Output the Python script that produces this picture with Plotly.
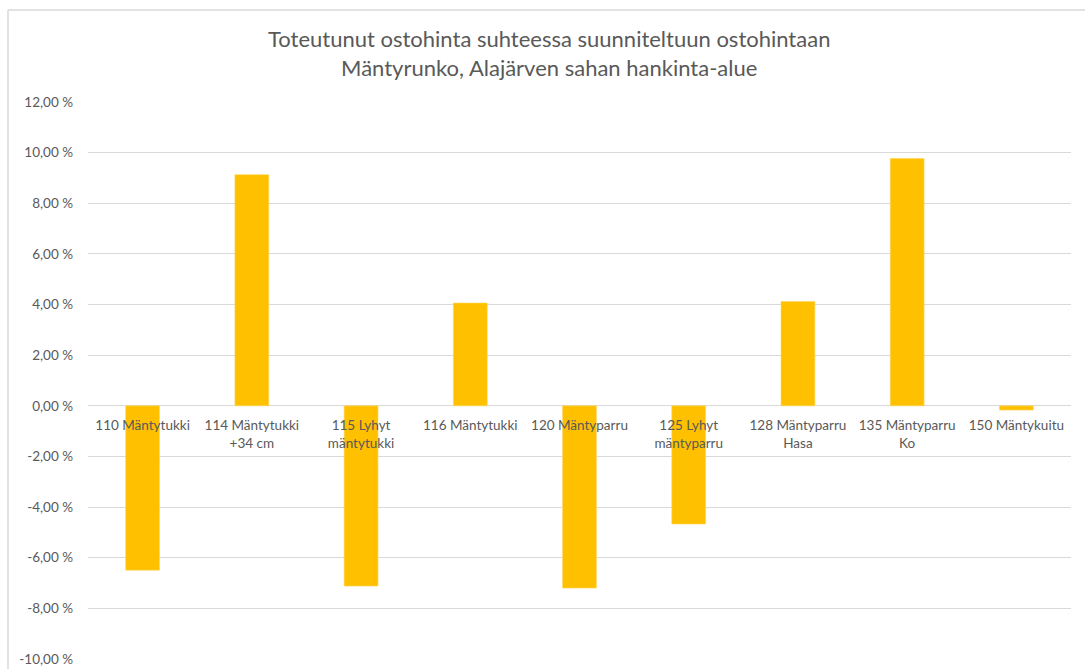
import plotly.graph_objects as go

# Purchase price deviation per timber assortment (percent)
categories = [
    "110 Mäntytukki",
    "114 Mäntytukki<br>+34 cm",
    "115 Lyhyt<br>mäntytukki",
    "116 Mäntytukki",
    "120 Mäntyparru",
    "125 Lyhyt<br>mäntyparru",
    "128 Mäntyparru<br>Hasa",
    "135 Mäntyparru<br>Ko",
    "150 Mäntykuitu",
]
deviation_pct = [-6.49, 9.13, -7.12, 4.06, -7.20, -4.67, 4.12, 9.77, -0.17]

y_tick_values = [-10, -8, -6, -4, -2, 0, 2, 4, 6, 8, 10, 12]
y_tick_labels = [f"{v:.2f}".replace(".", ",") + " %" for v in y_tick_values]

title_lines = [
    "Toteutunut ostohinta suhteessa suunniteltuun ostohintaan",
    "Mäntyrunko, Alajärven sahan hankinta-alue",
]

FONT = "Lato, Calibri, Carlito, sans-serif"
TEXT_GRAY = "#595959"
GRID_GRAY = "#D9D9D9"
Y_MIN, Y_MAX = -10, 12

W, H = 1085, 669
M_L, M_R, M_T, M_B = 88, 14, 102, 10
PLOT_W = W - M_L - M_R
PLOT_H = H - M_T - M_B


def px_x(px):
    """Horizontal pixel position to paper fraction."""
    return (px - M_L) / PLOT_W


def px_y(py):
    """Vertical pixel position (from top) to paper fraction."""
    return (H - M_B - py) / PLOT_H


fig = go.Figure(
    go.Bar(
        x=categories,
        y=deviation_pct,
        marker=dict(color="#FFC000", line=dict(color="#FFD65C", width=0.6)),
        width=0.31,
        hoverinfo="x+y",
    )
)

fig.update_layout(
    width=W,
    height=H,
    margin=dict(l=M_L, r=M_R, t=M_T, b=M_B),
    paper_bgcolor="white",
    plot_bgcolor="white",
    showlegend=False,
    font=dict(family=FONT, color=TEXT_GRAY, size=13.5),
    xaxis=dict(
        type="category",
        anchor="free",
        position=(0 - Y_MIN) / (Y_MAX - Y_MIN),
        showgrid=False,
        showline=False,
        ticks="",
        ticklabelstandoff=10,
        tickfont=dict(family=FONT, size=13.5, color=TEXT_GRAY),
        layer="above traces",
        automargin=False,
        fixedrange=True,
    ),
    yaxis=dict(
        range=[Y_MIN, Y_MAX],
        tickvals=y_tick_values,
        ticktext=y_tick_labels,
        showgrid=True,
        gridcolor=GRID_GRAY,
        gridwidth=1,
        zeroline=True,
        zerolinecolor=GRID_GRAY,
        zerolinewidth=1,
        showline=False,
        ticks="",
        ticklabelstandoff=14,
        tickfont=dict(family=FONT, size=13.5, color=TEXT_GRAY),
        automargin=False,
        fixedrange=True,
    ),
    annotations=[
        dict(
            text="<br>".join(title_lines),
            xref="paper",
            yref="paper",
            x=px_x(549),
            y=px_y(53.5),
            xanchor="center",
            yanchor="middle",
            showarrow=False,
            font=dict(family=FONT, size=22, color=TEXT_GRAY),
        )
    ],
    shapes=[
        # chart-area frame (top and left edges)
        dict(
            type="line",
            xref="paper",
            yref="paper",
            x0=px_x(8),
            x1=px_x(1090),
            y0=px_y(10),
            y1=px_y(10),
            line=dict(color=GRID_GRAY, width=1.5),
        ),
        dict(
            type="line",
            xref="paper",
            yref="paper",
            x0=px_x(8),
            x1=px_x(8),
            y0=px_y(10),
            y1=px_y(680),
            line=dict(color=GRID_GRAY, width=1.5),
        ),
    ],
)

fig.write_html("out.html")
